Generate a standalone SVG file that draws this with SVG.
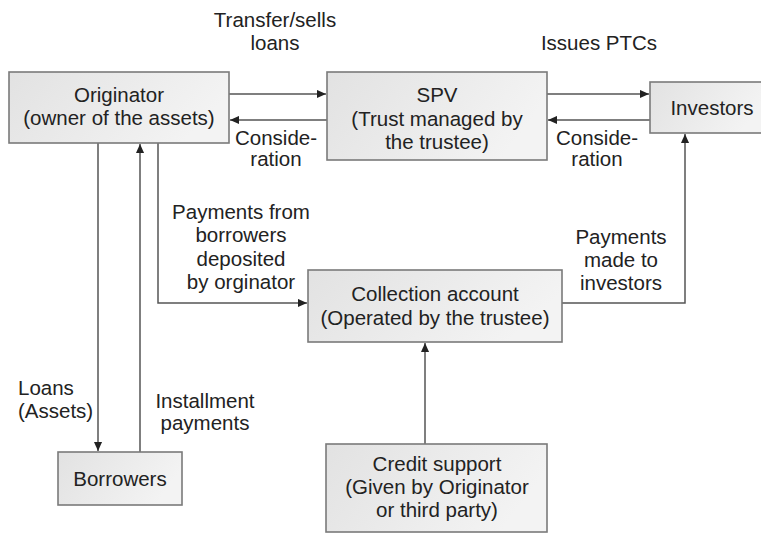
<svg xmlns="http://www.w3.org/2000/svg" width="761" height="533" viewBox="0 0 761 533">
<style>
.box{fill:url(#g);stroke:#7a7a7a;stroke-width:1.6}
.t{font-family:"Liberation Sans",Arial,sans-serif;font-size:20.5px;fill:#222;text-anchor:middle}
.l{font-family:"Liberation Sans",Arial,sans-serif;font-size:20.5px;fill:#222}
.c{fill:none;stroke:#555;stroke-width:1.5}
</style>
<defs>
<linearGradient id="g" x1="0" y1="0" x2="1" y2="0.3">
<stop offset="0" stop-color="#e2e2e2"/>
<stop offset="1" stop-color="#f3f3f3"/>
</linearGradient>
<marker id="a" viewBox="0 0 10 10" refX="10" refY="5" markerWidth="9" markerHeight="9" markerUnits="userSpaceOnUse" orient="auto">
<path d="M0,0.5 L10,5 L0,9.5 Z" fill="#222"/>
</marker>
</defs>
<rect width="761" height="533" fill="#fff"/>
<g id="connectors">
<line class="c" x1="229" y1="94" x2="326" y2="94" marker-end="url(#a)"/>
<line class="c" x1="327" y1="120" x2="230" y2="120" marker-end="url(#a)"/>
<line class="c" x1="547" y1="94" x2="649" y2="94" marker-end="url(#a)"/>
<line class="c" x1="650" y1="120" x2="548" y2="120" marker-end="url(#a)"/>
<line class="c" x1="98" y1="143" x2="98" y2="451" marker-end="url(#a)"/>
<line class="c" x1="140" y1="452" x2="140" y2="144" marker-end="url(#a)"/>
<polyline class="c" points="158,143 158,303 307,303" marker-end="url(#a)"/>
<polyline class="c" points="562,303 685,303 685,134" marker-end="url(#a)"/>
<line class="c" x1="425" y1="444" x2="425" y2="343" marker-end="url(#a)"/>
<text class="t" x="275" y="27">Transfer/sells</text>
<text class="t" x="275" y="50">loans</text>
<text class="t" x="599" y="50">Issues PTCs</text>
<text class="t" x="276" y="145">Conside-</text>
<text class="t" x="276" y="166">ration</text>
<text class="t" x="597" y="145">Conside-</text>
<text class="t" x="597" y="166">ration</text>
<text class="t" x="241" y="219">Payments from</text>
<text class="t" x="241" y="242">borrowers</text>
<text class="t" x="241" y="266">deposited</text>
<text class="t" x="241" y="289">by orginator</text>
<text class="t" x="621" y="244">Payments</text>
<text class="t" x="621" y="267">made to</text>
<text class="t" x="621" y="290">investors</text>
<text class="l" x="18" y="395">Loans</text>
<text class="l" x="18" y="418">(Assets)</text>
<text class="t" x="205" y="408">Installment</text>
<text class="t" x="205" y="430">payments</text>
</g>
<g id="originator">
<rect class="box" x="9" y="72" width="220" height="71"/>
<text class="t" x="119" y="102">Originator</text>
<text class="t" x="119" y="125">(owner of the assets)</text>
</g>
<g id="spv">
<rect class="box" x="327" y="72" width="220" height="88"/>
<text class="t" x="437" y="102">SPV</text>
<text class="t" x="437" y="126">(Trust managed by</text>
<text class="t" x="437" y="149">the trustee)</text>
</g>
<g id="investors">
<rect class="box" x="650" y="82" width="115" height="51"/>
<text class="t" x="712" y="115">Investors</text>
</g>
<g id="collection">
<rect class="box" x="308" y="270" width="254" height="72"/>
<text class="t" x="435" y="301">Collection account</text>
<text class="t" x="435" y="325">(Operated by the trustee)</text>
</g>
<g id="borrowers">
<rect class="box" x="58" y="452" width="124" height="53"/>
<text class="t" x="120" y="486">Borrowers</text>
</g>
<g id="credit">
<rect class="box" x="326" y="444" width="221" height="88"/>
<text class="t" x="437" y="471">Credit support</text>
<text class="t" x="437" y="494">(Given by Originator</text>
<text class="t" x="437" y="517">or third party)</text>
</g>
</svg>
